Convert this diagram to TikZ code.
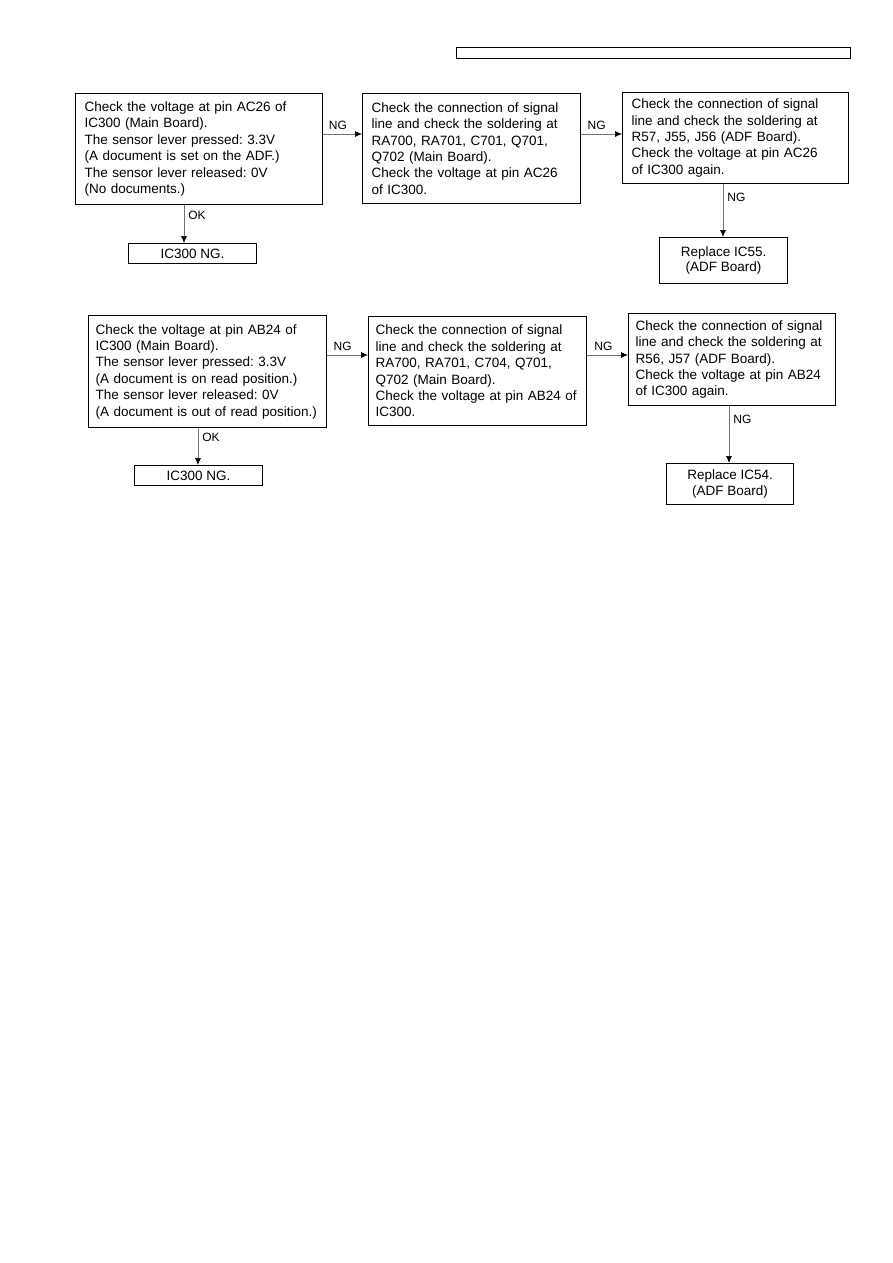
\documentclass[tikz,border=0pt]{standalone}
\usepackage{fontspec}
\setmainfont{Liberation Sans}
\usetikzlibrary{arrows.meta, positioning}
\frenchspacing

\begin{document}
\begin{tikzpicture}[x=1pt, y=-1pt,
    chkbox/.style={draw, line width=1.1pt, anchor=north west, align=left, inner xsep=9pt, inner ysep=0pt, font=\fontsize{13.5}{16.4}\selectfont},
    endbox/.style={draw, line width=1.1pt, anchor=north west, align=center, inner sep=0pt, font=\fontsize{13.5}{15.5}\selectfont},
    flow/.style={-{Latex[length=7pt, width=6pt, color=black]}, draw=black!55, line width=0.7pt},
    lbl/.style={font=\fontsize{12}{13}\selectfont, inner sep=1.5pt}]
  \useasboundingbox (0,0) rectangle (893,1263);

  % Header bar
  \node[draw, line width=0.9pt, anchor=north west, minimum width=394pt, minimum height=11pt, inner sep=0pt] (hdr) at (456,47) {};

  % Upper chart (AC26)
  \node[chkbox, text width=229pt, minimum height=111pt] (chkA) at (75,93) {Check the voltage at pin AC26 of\\IC300 (Main Board).\\The sensor lever pressed: 3.3V\\(A document is set on the ADF.)\\The sensor lever released: 0V\\(No documents.)};
  \node[chkbox, text width=200pt, minimum height=110pt] (chkB) at (362,93) {Check the connection of signal\\line and check the soldering at\\RA700, RA701, C701, Q701,\\Q702 (Main Board).\\Check the voltage at pin AC26\\of IC300.};
  \node[chkbox, text width=208pt, minimum height=91pt] (chkC) at (622,92) {Check the connection of signal\\line and check the soldering at\\R57, J55, J56 (ADF Board).\\Check the voltage at pin AC26\\of IC300 again.};
  \node[endbox, minimum width=128pt, minimum height=20pt] (ngA) at (128,243) {IC300 NG.};
  \node[endbox, minimum width=128pt, minimum height=46pt] (repC) at (659,237) {Replace IC55.\\(ADF Board)};

  % Lower chart (AB24)
  \node[chkbox, inner xsep=7pt, text width=224pt, minimum height=112pt] (chkD) at (88,315) {Check the voltage at pin AB24 of\\IC300 (Main Board).\\The sensor lever pressed: 3.3V\\(A document is on read position.)\\The sensor lever released: 0V\\(A document is out of read position.)};
  \node[chkbox, inner xsep=7pt, text width=204pt, minimum height=109pt] (chkE) at (368,316) {Check the connection of signal\\line and check the soldering at\\RA700, RA701, C704, Q701,\\Q702 (Main Board).\\Check the voltage at pin AB24 of\\IC300.};
  \node[chkbox, inner xsep=7pt, text width=193pt, minimum height=92pt] (chkF) at (628,313) {Check the connection of signal\\line and check the soldering at\\R56, J57 (ADF Board).\\Check the voltage at pin AB24\\of IC300 again.};
  \node[endbox, minimum width=128pt, minimum height=20pt] (ngD) at (134,465) {IC300 NG.};
  \node[endbox, minimum width=127pt, minimum height=41pt] (repF) at (666,463) {Replace IC54.\\(ADF Board)};

  % Arrows
  \draw[flow] (chkA.east |- 0,134) -- node[lbl, above=3pt, pos=0.38] {NG} (chkB.west |- 0,134);
  \draw[flow] (chkB.east |- 0,134) -- node[lbl, above=3pt, pos=0.38] {NG} (chkC.west |- 0,134);
  \draw[flow] (chkA.south -| 184,0) -- node[lbl, right=2.5pt, pos=0.28] {OK} (ngA.north -| 184,0);
  \draw[flow] (chkC.south -| 723,0) -- node[lbl, right=2.5pt, pos=0.26] {NG} (repC.north -| 723,0);

  \draw[flow] (chkD.east |- 0,355) -- node[lbl, above=3pt, pos=0.38] {NG} (chkE.west |- 0,355);
  \draw[flow] (chkE.east |- 0,355) -- node[lbl, above=3pt, pos=0.4] {NG} (chkF.west |- 0,355);
  \draw[flow] (chkD.south -| 198,0) -- node[lbl, right=2.5pt, pos=0.26] {OK} (ngD.north -| 198,0);
  \draw[flow] (chkF.south -| 729,0) -- node[lbl, right=2.5pt, pos=0.23] {NG} (repF.north -| 729,0);
\end{tikzpicture}
\end{document}
